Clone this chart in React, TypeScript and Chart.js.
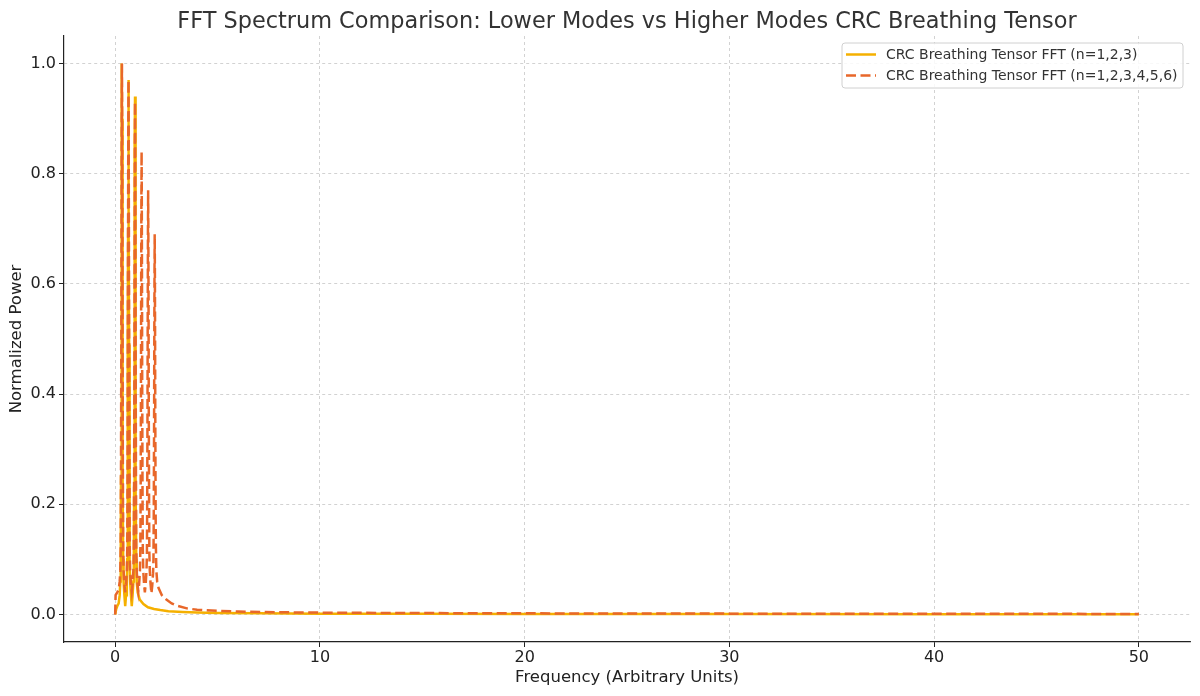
import { useEffect, useRef } from "react"
import { Chart, registerables } from "chart.js"

Chart.register(...registerables)

// Spectrum for the lower modes (n=1,2,3)
const freqLow = [
    0, 0.05, 0.1, 0.17, 0.22, 0.25, 0.27, 0.285, 0.3, 0.31, 0.32, 0.33, 0.34, 0.35, 0.36, 0.375, 0.39, 0.41, 0.45,
    0.49, 0.53, 0.57, 0.59, 0.605, 0.62, 0.63, 0.64, 0.65, 0.66, 0.67, 0.68, 0.695, 0.71, 0.73, 0.77,
    0.81, 0.85, 0.89, 0.91, 0.925, 0.94, 0.95, 0.96, 0.97, 0.98, 0.99, 1.0, 1.015, 1.03, 1.05,
    1.1, 1.2, 1.38, 1.6, 1.9, 2.2, 2.6, 3.3, 4, 5, 7, 10, 15, 20, 30, 40, 50,
]
const powerLow = [
    0, 0.01, 0.015, 0.02, 0.035, 0.06, 0.1, 0.25, 0.5, 0.72, 0.9, 1.0, 0.9, 0.72, 0.5, 0.25, 0.1, 0.06, 0.035,
    0.015, 0.035, 0.06, 0.1, 0.24, 0.49, 0.7, 0.87, 0.97, 0.87, 0.7, 0.49, 0.24, 0.1, 0.06, 0.035,
    0.015, 0.035, 0.06, 0.1, 0.23, 0.47, 0.68, 0.85, 0.94, 0.85, 0.68, 0.47, 0.23, 0.1, 0.06,
    0.04, 0.027, 0.019, 0.013, 0.01, 0.008, 0.006, 0.0045, 0.0035, 0.0028, 0.002, 0.0015, 0.0011, 0.0009, 0.0007, 0.0005, 0.0004,
]

// Spectrum for the higher modes (n=1..6)
const freqHigh = [
    0, 0.02, 0.1, 0.17, 0.22, 0.25, 0.27, 0.285, 0.3, 0.31, 0.32, 0.33, 0.34, 0.35, 0.36, 0.375, 0.39, 0.41, 0.45,
    0.49, 0.53, 0.57, 0.59, 0.605, 0.62, 0.63, 0.64, 0.65, 0.66, 0.67, 0.68, 0.695, 0.71, 0.73, 0.77,
    0.81, 0.85, 0.89, 0.91, 0.925, 0.94, 0.95, 0.96, 0.97, 0.98, 0.99, 1.0, 1.015, 1.03, 1.05, 1.09,
    1.13, 1.17, 1.21, 1.23, 1.245, 1.26, 1.27, 1.28, 1.29, 1.3, 1.31, 1.32, 1.335, 1.35, 1.37, 1.41,
    1.45, 1.49, 1.53, 1.55, 1.565, 1.58, 1.59, 1.6, 1.61, 1.62, 1.63, 1.64, 1.655, 1.67, 1.69, 1.73,
    1.77, 1.81, 1.85, 1.87, 1.885, 1.9, 1.91, 1.92, 1.93, 1.94, 1.95, 1.96, 1.975, 1.99, 2.01, 2.05,
    2.12, 2.28, 2.5, 2.76, 3.0, 3.5, 4, 5, 6, 8, 10, 15, 20, 30, 40, 50,
]
const powerHigh = [
    0, 0.035, 0.04, 0.045, 0.06, 0.08, 0.12, 0.27, 0.5, 0.72, 0.9, 1.0, 0.9, 0.72, 0.5, 0.27, 0.12, 0.08, 0.055,
    0.04, 0.055, 0.08, 0.12, 0.26, 0.485, 0.7, 0.873, 0.97, 0.873, 0.7, 0.485, 0.26, 0.12, 0.08, 0.055,
    0.042, 0.055, 0.08, 0.12, 0.25, 0.465, 0.67, 0.837, 0.93, 0.837, 0.67, 0.465, 0.25, 0.12, 0.08, 0.055,
    0.042, 0.055, 0.08, 0.12, 0.227, 0.42, 0.605, 0.756, 0.84, 0.756, 0.605, 0.42, 0.227, 0.12, 0.08, 0.055,
    0.04, 0.055, 0.08, 0.11, 0.208, 0.385, 0.554, 0.693, 0.77, 0.693, 0.554, 0.385, 0.208, 0.11, 0.08, 0.055,
    0.038, 0.052, 0.075, 0.1, 0.186, 0.345, 0.497, 0.621, 0.69, 0.621, 0.497, 0.345, 0.186, 0.12, 0.08, 0.06,
    0.048, 0.035, 0.027, 0.02, 0.016, 0.011, 0.0085, 0.0065, 0.0052, 0.004, 0.0033, 0.0025, 0.002, 0.0015, 0.0012, 0.001,
]

const xTicks = [0, 10, 20, 30, 40, 50]
const yTicks = [0, 0.2, 0.4, 0.6, 0.8, 1.0]

const labelLow = "CRC Breathing Tensor FFT (n=1,2,3)"
const labelHigh = "CRC Breathing Tensor FFT (n=1,2,3,4,5,6)"
const chartTitle = "FFT Spectrum Comparison: Lower Modes vs Higher Modes CRC Breathing Tensor"

const colorLow = "#f5b000"
const colorHigh = "#e8672a"
const dash = [10, 4.5]

const FONT = "'DejaVu Sans', sans-serif"

// title and in-plot legend, drawn like matplotlib does
const decorations = {
    id: "decorations",
    afterDraw(chart: Chart) {
        const { ctx, chartArea } = chart
        ctx.save()
        ctx.fillStyle = "#333"
        ctx.font = `22.4px ${FONT}`
        ctx.textAlign = "center"
        ctx.textBaseline = "alphabetic"
        ctx.fillText(chartTitle, (chartArea.left + chartArea.right) / 2, 28)

        // legend box
        const bx = 842, by = 43, bw = 341, bh = 45
        ctx.beginPath()
        ctx.roundRect(bx, by, bw, bh, 3)
        ctx.fillStyle = "rgba(255,255,255,0.85)"
        ctx.fill()
        ctx.strokeStyle = "#d0d0d0"
        ctx.lineWidth = 1
        ctx.stroke()

        ctx.lineWidth = 2.5
        ctx.strokeStyle = colorLow
        ctx.beginPath()
        ctx.moveTo(846, 54.5)
        ctx.lineTo(876, 54.5)
        ctx.stroke()

        ctx.strokeStyle = colorHigh
        ctx.setLineDash(dash)
        ctx.beginPath()
        ctx.moveTo(846, 75.5)
        ctx.lineTo(876, 75.5)
        ctx.stroke()
        ctx.setLineDash([])

        ctx.fillStyle = "#333"
        ctx.font = `14px ${FONT}`
        ctx.textAlign = "left"
        ctx.textBaseline = "middle"
        ctx.fillText(labelLow, 886, 55)
        ctx.fillText(labelHigh, 886, 76)
        ctx.restore()
    },
}

export default function App() {
    const chartRef = useRef<HTMLCanvasElement>(null)
    const chartInstance = useRef<Chart | null>(null)

    useEffect(() => {
        if (!chartRef.current) return
        if (chartInstance.current) chartInstance.current.destroy()

        const ctx = chartRef.current.getContext("2d")
        if (!ctx) return

        chartInstance.current = new Chart(ctx, {
            type: "line",
            data: {
                datasets: [
                    {
                        label: labelLow,
                        data: freqLow.map((f, i) => ({ x: f, y: powerLow[i] })),
                        borderColor: colorLow,
                        borderWidth: 2.5,
                        pointRadius: 0,
                        tension: 0,
                        order: 2,
                    },
                    {
                        label: labelHigh,
                        data: freqHigh.map((f, i) => ({ x: f, y: powerHigh[i] })),
                        borderColor: colorHigh,
                        borderWidth: 2.5,
                        borderDash: dash,
                        pointRadius: 0,
                        tension: 0,
                        order: 1,
                    },
                ],
            },
            options: {
                animation: false,
                responsive: true,
                maintainAspectRatio: false,
                layout: { padding: { top: 36, right: 10, left: 0, bottom: 0 } },
                plugins: {
                    legend: { display: false },
                    title: { display: false },
                    tooltip: { enabled: false },
                },
                scales: {
                    x: {
                        type: "linear",
                        min: -2.5,
                        max: 52.5,
                        afterBuildTicks: (scale) => {
                            scale.ticks = xTicks.map((v) => ({ value: v }))
                        },
                        afterFit: (scale) => {
                            scale.height = 54
                        },
                        ticks: {
                            color: "#222",
                            font: { size: 16, family: FONT },
                            padding: 1,
                            maxRotation: 0,
                            callback: (v) => String(v),
                        },
                        grid: {
                            color: "rgba(180,180,180,0.75)",
                            lineWidth: 0.8,
                            tickColor: "#222",
                            tickLength: 5,
                            tickWidth: 1,
                        },
                        border: { color: "#222", width: 1.2, dash: [3, 3] },
                        title: {
                            display: true,
                            text: "Frequency (Arbitrary Units)",
                            color: "#222",
                            font: { size: 16.5, family: FONT },
                            padding: { top: 0, bottom: 8 },
                        },
                    },
                    y: {
                        type: "linear",
                        min: -0.05,
                        max: 1.05,
                        afterBuildTicks: (scale) => {
                            scale.ticks = yTicks.map((v) => ({ value: v }))
                        },
                        afterFit: (scale) => {
                            scale.width = 64
                        },
                        ticks: {
                            color: "#222",
                            font: { size: 16, family: FONT },
                            padding: 3,
                            callback: (v) => Number(v).toFixed(1),
                        },
                        grid: {
                            color: "rgba(180,180,180,0.75)",
                            lineWidth: 0.8,
                            tickColor: "#222",
                            tickLength: 5,
                            tickWidth: 1,
                        },
                        border: { color: "#222", width: 1.2, dash: [3, 3] },
                        title: {
                            display: true,
                            text: "Normalized Power",
                            color: "#222",
                            font: { size: 16.5, family: FONT },
                            padding: { top: 7, bottom: 0 },
                        },
                    },
                },
            },
            plugins: [decorations],
        })

        return () => {
            if (chartInstance.current) {
                chartInstance.current.destroy()
                chartInstance.current = null
            }
        }
    }, [])

    return (
        <div style={{ position: "absolute", left: 0, top: 0, width: 1200, height: 696, background: "#fff" }}>
            <canvas ref={chartRef} />
        </div>
    )
}
